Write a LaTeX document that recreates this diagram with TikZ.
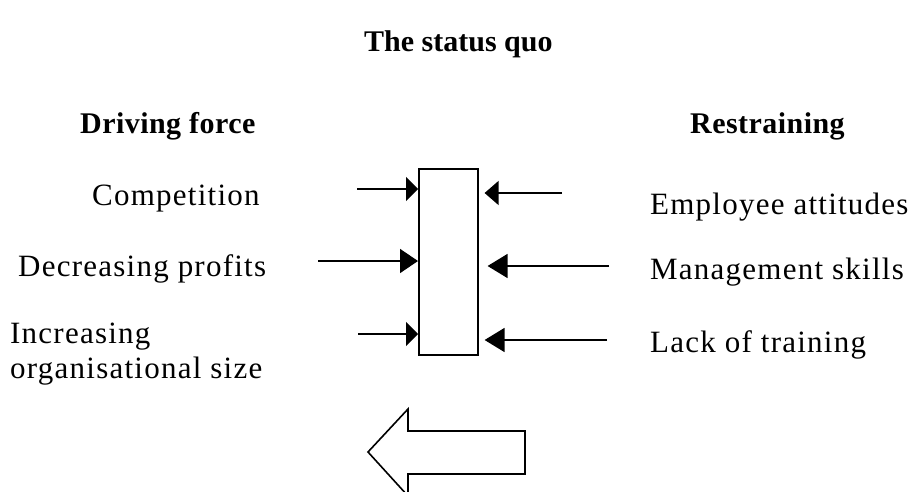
\documentclass[tikz,border=0pt]{standalone}
\usepackage{fontspec}
\setmainfont{Liberation Serif}
\newfontfamily\spaced[LetterSpace=4]{Liberation Serif}
\newfontfamily\spacedhd[LetterSpace=1.5]{Liberation Serif}
\usetikzlibrary{arrows.meta}
\tikzset{
  lbl/.style={anchor=base west, inner sep=0pt, font=\spaced\fontsize{31}{35}\selectfont},
  hd/.style={anchor=base west, inner sep=0pt, font=\spacedhd\bfseries\fontsize{30}{34}\selectfont},
  ttl/.style={anchor=base west, inner sep=0pt, font=\bfseries\fontsize{30}{36}\selectfont},
  force/.style={line width=1.6pt, -{Triangle[length=#1, width=24pt]}},
  stline/.style={line width=1.6pt, line join=miter}
}
\begin{document}
\begin{tikzpicture}[x=1pt,y=-1pt]
\clip (0,0) rectangle (915,492);
\fill[white] (0,0) rectangle (915,492);

\node[ttl] (title) at (364,52) {The status quo};
\node[hd] (drv) at (80,133) {Driving force};
\node[hd] (rst) at (690,133) {Restraining};

\node[lbl] (comp) at (92,205) {Competition};
\node[lbl] (decr) at (18,276) {Decreasing profits};
\node[lbl, align=left] (incr) at (10,378) {Increasing\\organisational size};

\node[lbl] (emp) at (650,214) {Employee attitudes};
\node[lbl] (mgmt) at (650,279) {Management skills};
\node[lbl] (lack) at (650,352) {Lack of training};

\node[draw, line width=1.6pt, minimum width=59pt, minimum height=186pt,
      inner sep=0pt, anchor=north west] (box) at (418,168) {};

\coordinate (d1) at (357,189);
\coordinate (d2) at (318,261);
\coordinate (d3) at (358,334);
\coordinate (r1) at (562,193);
\coordinate (r2) at (609,266);
\coordinate (r3) at (607,340);

\draw[force=12pt] (d1) -- (d1 -| box.west);
\draw[force=18pt] (d2) -- (d2 -| box.west);
\draw[force=12pt] (d3) -- (d3 -| box.west);
\draw[force=14pt, shorten >=6pt] (r1) -- (r1 -| box.east);
\draw[force=20pt, shorten >=9pt] (r2) -- (r2 -| box.east);
\draw[force=20pt, shorten >=6pt] (r3) -- (r3 -| box.east);

\draw[stline] (368,452) -- (408,409) -- (408,431) -- (525,431) -- (525,474)
  -- (408,474) -- (408,496) -- cycle;
\end{tikzpicture}
\end{document}
